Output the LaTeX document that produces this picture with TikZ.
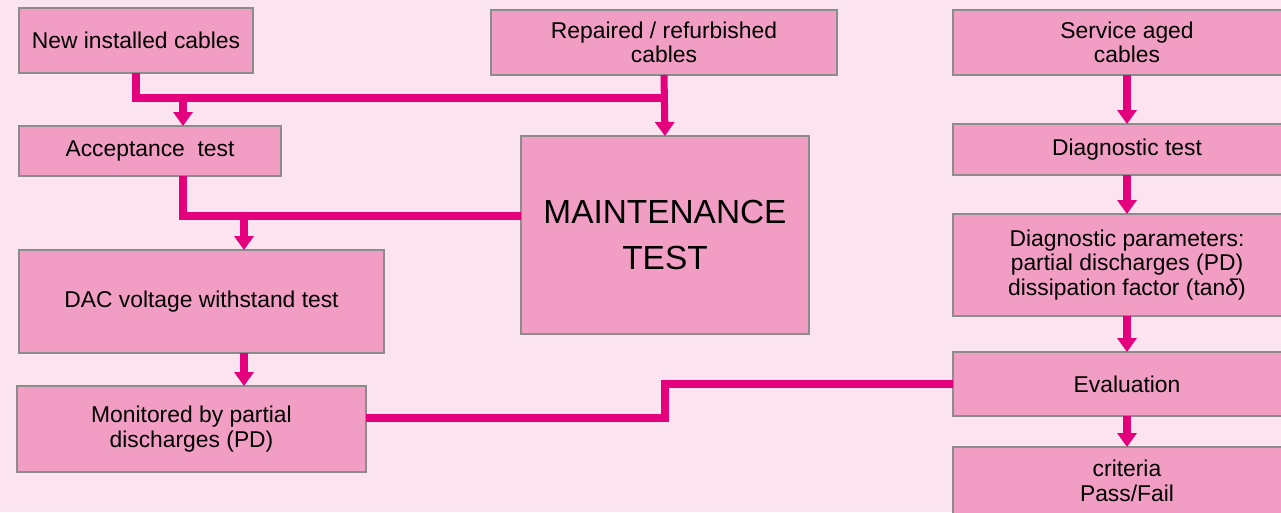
\documentclass[tikz,border=0pt]{standalone}
\usepackage{fontspec}
\setmainfont{Liberation Sans}
\usepackage{xcolor}
\usepackage{tikz}
\usetikzlibrary{arrows.meta,positioning,calc}
\definecolor{pagepink}{RGB}{251,228,240}
\definecolor{boxpink}{RGB}{242,158,196}
\definecolor{boxgray}{RGB}{140,140,140}
\definecolor{linkmagenta}{RGB}{228,0,124}

\begin{document}
\begin{tikzpicture}[
    >={Triangle[width=0.38cm,length=0.28cm]},
    pinkbox/.style={
        rectangle,
        draw=boxgray,
        fill=boxpink,
        line width=1.3pt,
        outer sep=0pt,
        inner sep=2pt,
        align=center,
        font=\fontsize{13}{14}\selectfont
    },
    bigtext/.style={
        font=\fontsize{19}{26}\selectfont
    },
    link/.style={
        line width=4pt,
        draw=linkmagenta
    },
    arrow/.style={
        ->,
        line width=4pt,
        draw=linkmagenta
    }
]

\fill[pagepink] (0,0) rectangle (25.62,-10.24);
\useasboundingbox (0,0) rectangle (25.62,-10.24);

% top row
\node[pinkbox, minimum width=4.68cm, minimum height=1.30cm] (newcab)
at (2.72,-0.81) {New installed cables};
\node[pinkbox, minimum width=6.92cm, minimum height=1.30cm] (repcab)
at (13.28,-0.85) {Repaired / refurbished\\cables};
\node[pinkbox, minimum width=6.96cm, minimum height=1.30cm] (servcab)
at (22.54,-0.85) {Service aged\\cables};

% left column
\node[pinkbox, minimum width=5.24cm, minimum height=1.00cm,
    below right=1.06cm and 0cm of newcab.south west] (accept) {Acceptance~~test};
\node[pinkbox, minimum width=7.30cm, minimum height=2.06cm,
    below right=1.48cm and 0cm of accept.south west] (dac) {DAC voltage withstand test};
\node[pinkbox, minimum width=6.98cm, minimum height=1.72cm,
    below right=0.66cm and -0.04cm of dac.south west] (monit) {Monitored by partial\\discharges (PD)};

% middle
\node[pinkbox, bigtext, minimum width=5.76cm, minimum height=3.96cm,
    below=1.22cm of repcab, xshift=0.02cm] (maint) {MAINTENANCE\\TEST};

% right column
\node[pinkbox, minimum width=6.96cm, minimum height=1.02cm, below=0.98cm of servcab] (diagtest) {Diagnostic test};
\node[pinkbox, minimum width=6.96cm, minimum height=2.04cm, below=0.78cm of diagtest] (diagpar)
{Diagnostic parameters:\\partial discharges (PD)\\dissipation factor (tan\textit{δ})};
\node[pinkbox, minimum width=6.96cm, minimum height=1.28cm, below=0.72cm of diagpar] (eval) {Evaluation};
\node[pinkbox, minimum width=6.96cm, minimum height=1.36cm, below=0.62cm of eval] (crit) {criteria\\Pass/Fail};

% connectors
\coordinate (jnew) at (3.66,-1.96);
\coordinate (jacc) at (4.88,-4.32);
\coordinate (jeval) at (maint.south |- eval.west);

\draw[link] (newcab.south) |- (jnew -| repcab.south);
\draw[arrow] (jnew) -- (jnew |- accept.north);
\draw[arrow] (repcab.south) -- (maint.north);

\draw[link] (jnew |- accept.south) |- (jacc -| maint.west);
\draw[arrow] (jacc) -- (jacc |- dac.north);
\draw[arrow] (jacc |- dac.south) -- (jacc |- monit.north);

\draw[link] ([yshift=0.22cm]monit.east) -| (jeval) -- (eval.west);

\draw[arrow] (servcab.south) -- (diagtest.north);
\draw[arrow] (diagtest.south) -- (diagpar.north);
\draw[arrow] (diagpar.south) -- (eval.north);
\draw[arrow] (eval.south) -- (crit.north);

\end{tikzpicture}
\end{document}
